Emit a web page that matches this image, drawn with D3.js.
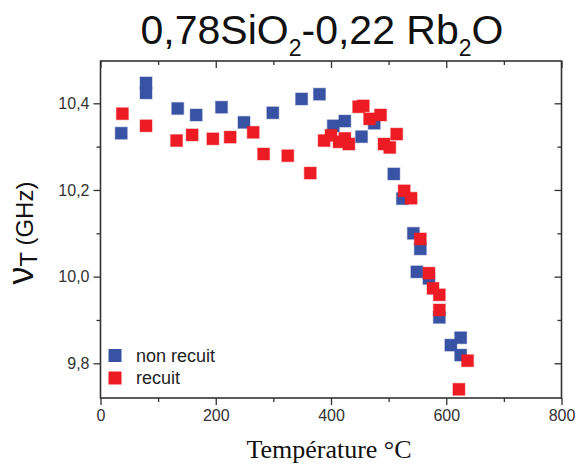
<!DOCTYPE html>
<html>
<head>
<meta charset="utf-8">
<script src="https://cdn.jsdelivr.net/npm/d3@7"></script>
<style>
  body { margin: 0; background: #fff; }
  svg { display: block; }
</style>
</head>
<body>
<div id="chart"></div>
<script>
// temperature (°C) and nu_T (GHz)
const tempNonRecuit = [36, 79, 79, 134, 166, 210, 249, 299, 349, 380, 404, 424, 453, 475, 509, 524, 543, 555, 549, 570, 588, 625, 608, 625];
const nuNonRecuit = [10.331, 10.447, 10.424, 10.388, 10.373, 10.391, 10.356, 10.378, 10.41, 10.421, 10.348, 10.359, 10.323, 10.354, 10.237, 10.18, 10.1, 10.064, 10.011, 9.996, 9.906, 9.859, 9.842, 9.819];

const tempRecuit = [38, 79, 132, 159, 195, 225, 265, 283, 325, 364, 388, 400, 414, 424, 431, 448, 456, 467, 486, 492, 502, 514, 527, 539, 555, 570, 577, 588, 588, 637, 622];
const nuRecuit = [10.376, 10.348, 10.314, 10.327, 10.318, 10.322, 10.333, 10.283, 10.279, 10.239, 10.314, 10.326, 10.311, 10.319, 10.306, 10.392, 10.394, 10.364, 10.373, 10.306, 10.298, 10.329, 10.198, 10.181, 10.087, 10.008, 9.973, 9.958, 9.923, 9.806, 9.740];

const xTicks = [0, 200, 400, 600, 800];
const xMinor = [100, 300, 500, 700];
const yTicks = [9.8, 10.0, 10.2, 10.4];
const yMinor = [9.9, 10.1, 10.3];

const seriesNames = ["non recuit", "recuit"];
const seriesColors = ["#3953a4", "#ed1c24"];

const W = 585, H = 467;
const pLeft = 100.5, pRight = 561.5, pTop = 61, pBottom = 398;
const axisColor = "#333";

const svg = d3.select("#chart").append("svg")
    .attr("width", W)
    .attr("height", H);

const x = d3.scaleLinear().domain([0, 800]).range([pLeft, pRight]);
const y = d3.scaleLinear().domain([9.8, 10.4]).range([363.3, 103.3]);

const fmt = d => d3.format(".1f")(d).replace(".", ",");

// bottom axis (outward ticks) and top mirror (inward ticks)
const gx = svg.append("g").attr("transform", `translate(0,${pBottom})`)
    .call(d3.axisBottom(x).tickValues(xTicks).tickSize(7).tickPadding(5).tickFormat(d3.format("d")));
gx.append("g").call(d3.axisBottom(x).tickValues(xMinor).tickSize(4).tickFormat(""));

const gxt = svg.append("g").attr("transform", `translate(0,${pTop})`)
    .call(d3.axisBottom(x).tickValues(xTicks).tickSize(7).tickFormat(""));
gxt.append("g").call(d3.axisBottom(x).tickValues(xMinor).tickSize(4).tickFormat(""));

// left axis (outward) and right mirror (inward)
const gy = svg.append("g").attr("transform", `translate(${pLeft},0)`)
    .call(d3.axisLeft(y).tickValues(yTicks).tickSize(7).tickPadding(4).tickFormat(fmt));
gy.append("g").call(d3.axisLeft(y).tickValues(yMinor).tickSize(4).tickFormat(""));

const gyr = svg.append("g").attr("transform", `translate(${pRight},0)`)
    .call(d3.axisLeft(y).tickValues(yTicks).tickSize(7).tickFormat(""));
gyr.append("g").call(d3.axisLeft(y).tickValues(yMinor).tickSize(4).tickFormat(""));

svg.selectAll(".domain").remove();
svg.selectAll(".tick line").attr("stroke", axisColor).attr("stroke-width", 1.3);
svg.selectAll(".tick text")
    .attr("fill", axisColor)
    .style("font-family", "Liberation Sans, Arial, sans-serif")
    .style("font-size", "16px");

// frame
svg.append("rect")
    .attr("x", pLeft).attr("y", pTop)
    .attr("width", pRight - pLeft).attr("height", pBottom - pTop)
    .attr("fill", "none")
    .attr("stroke", axisColor)
    .attr("stroke-width", 1.6);

// points
const sz = 12;
function drawSeries(temps, vals, color) {
    svg.append("g").selectAll("rect")
        .data(temps.map((t, i) => [t, vals[i]]))
        .enter().append("rect")
        .attr("x", d => x(d[0]) - sz / 2)
        .attr("y", d => y(d[1]) - sz / 2)
        .attr("width", sz)
        .attr("height", sz)
        .attr("fill", color)
        .attr("stroke", color)
        .attr("stroke-opacity", 0.35)
        .attr("stroke-width", 1.2);
}
drawSeries(tempNonRecuit, nuNonRecuit, seriesColors[0]);
drawSeries(tempRecuit, nuRecuit, seriesColors[1]);

// legend
const leg = svg.append("g");
seriesNames.forEach((name, i) => {
    const cy = 355.5 + i * 22.5;
    leg.append("rect")
        .attr("x", 115 - 6.5).attr("y", cy - 6.5)
        .attr("width", 13).attr("height", 13)
        .attr("fill", seriesColors[i]);
    leg.append("text")
        .attr("x", 136).attr("y", cy + 6)
        .attr("fill", "#222")
        .style("font-family", "Liberation Sans, Arial, sans-serif")
        .style("font-size", "18px")
        .text(name);
});

// title
const title = svg.append("text")
    .attr("x", 322).attr("y", 44)
    .attr("text-anchor", "middle")
    .attr("fill", "#111")
    .style("font-family", "Liberation Sans, Arial, sans-serif")
    .style("font-size", "41px");
title.append("tspan").text("0,78SiO");
title.append("tspan").attr("dy", 12).style("font-size", "23px").text("2");
title.append("tspan").attr("dy", -12).text("-0,22 Rb");
title.append("tspan").attr("dy", 12).style("font-size", "23px").text("2");
title.append("tspan").attr("dy", -12).text("O");

// x label
svg.append("text")
    .attr("x", 329).attr("y", 458)
    .attr("text-anchor", "middle")
    .attr("fill", "#111")
    .style("font-family", "Liberation Serif, Times New Roman, serif")
    .style("font-size", "26px")
    .text("Température °C");

// y label
const ylab = svg.append("text")
    .attr("transform", "translate(33,233) rotate(-90)")
    .attr("text-anchor", "middle")
    .attr("fill", "#111")
    .style("font-family", "Liberation Sans, Arial, sans-serif")
    .style("font-size", "24px");
ylab.append("tspan").style("font-size", "36px").text("ν");
ylab.append("tspan").attr("dy", 4).style("font-size", "24px").text("T");
ylab.append("tspan").attr("dy", -4).text(" (GHz)");
</script>
</body>
</html>
